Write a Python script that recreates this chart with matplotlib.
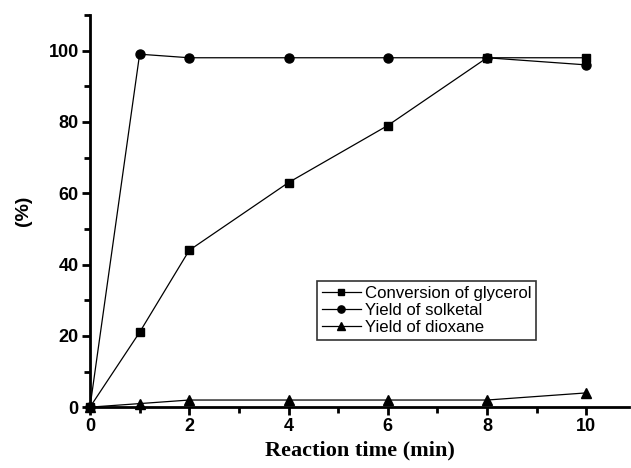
import matplotlib
matplotlib.use("Agg")
import matplotlib.pyplot as plt
from matplotlib.ticker import MultipleLocator

time = [0, 1, 2, 4, 6, 8, 10]
conversion = [0, 21, 44, 63, 79, 98, 98]
solketal = [0, 99, 98, 98, 98, 98, 96]
dioxane = [0, 1, 2, 2, 2, 2, 4]

fig = plt.figure(figsize=(6.31, 4.68), dpi=100)
ax = fig.add_axes([0.1426, 0.130, 0.855, 0.838])

kw = dict(color='black', lw=0.9, clip_on=False, zorder=3)
ax.plot(time, conversion, marker='s', ms=5.5, label='Conversion of glycerol', **kw)
ax.plot(time, solketal, marker='o', ms=6.5, label='Yield of solketal', **kw)
ax.plot(time, dioxane, marker='^', ms=6.5, label='Yield of dioxane', **kw)

ax.set_xlim(0, 10.87)
ax.set_ylim(0, 110)
for s in ['top', 'right']:
    ax.spines[s].set_visible(False)
for s in ['left', 'bottom']:
    ax.spines[s].set_linewidth(2)

ax.xaxis.set_major_locator(MultipleLocator(2))
ax.xaxis.set_minor_locator(MultipleLocator(1))
ax.yaxis.set_major_locator(MultipleLocator(20))
ax.yaxis.set_minor_locator(MultipleLocator(10))
ax.tick_params(which='major', direction='out', length=6, width=2, pad=2)
ax.tick_params(which='minor', direction='out', length=4, width=2)
for lab in ax.get_xticklabels() + ax.get_yticklabels():
    lab.set_fontfamily('Liberation Sans')
    lab.set_fontweight('bold')
    lab.set_fontsize(13)

ax.set_xlabel('Reaction time (min)', fontfamily='Liberation Serif', fontweight='bold', fontsize=16, labelpad=4)
ax.set_ylabel('(%)', fontfamily='Liberation Sans', fontweight='bold', fontsize=14, labelpad=12)

leg = ax.legend(loc='upper left', bbox_to_anchor=(317/631, 1 - 281/468),
                bbox_transform=fig.transFigure, frameon=True,
                prop={'family': 'Liberation Sans', 'size': 12.1}, fancybox=False,
                handlelength=2.3, handletextpad=0.25, borderpad=0.3, labelspacing=0.12,
                borderaxespad=0, markerscale=0.8)
leg.get_frame().set_edgecolor('black')
leg.get_frame().set_linewidth(1.2)

fig.savefig('out.png', dpi=100)
